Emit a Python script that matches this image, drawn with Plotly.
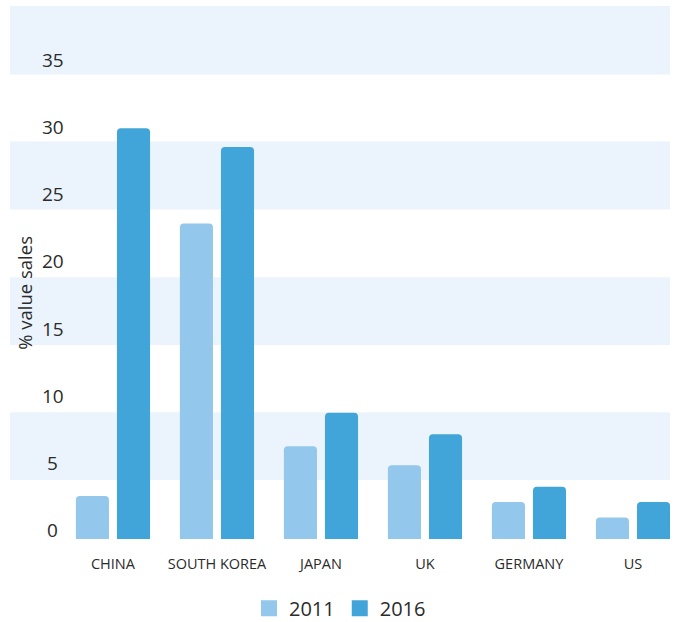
import plotly.graph_objects as go

categories = ["CHINA", "SOUTH KOREA", "JAPAN", "UK", "GERMANY", "US"]
sales_2011 = [3.2, 23.5, 6.9, 5.5, 2.75, 1.6]
sales_2016 = [30.6, 29.2, 9.4, 7.8, 3.9, 2.75]
y_ticks = [0, 5, 10, 15, 20, 25, 30, 35]
bands = [(4.4, 9.45), (14.45, 19.5), (24.55, 29.6), (34.6, 39.7)]

c2011 = "#93C7EB"
c2016 = "#42A5D9"
band_col = "#EBF4FC"
txt = "#2b2b2b"
FONT = "Open Sans, Noto Sans, sans-serif"

fig = go.Figure()
fig.add_trace(go.Bar(x=categories, y=sales_2011, name="2011", marker_color=c2011,
                     marker_line_width=0, showlegend=False))
fig.add_trace(go.Bar(x=categories, y=sales_2016, name="2016", marker_color=c2016,
                     marker_line_width=0, showlegend=False))
# legend entries
for name, col in [("2011", c2011), ("2016", c2016)]:
    fig.add_trace(go.Scatter(x=[None], y=[None], mode="markers", name=name,
                             marker=dict(symbol="square", size=16, color=col)))

shapes = []
for y0, y1 in bands:
    shapes.append(dict(type="rect", xref="paper", yref="y", x0=0, x1=1, y0=y0, y1=y1,
                       fillcolor=band_col, line_width=0, layer="below"))

annotations = []
for v in y_ticks:
    annotations.append(dict(x=(52.5 - 10) / 660, xref="paper", y=v, yref="y",
                            text=str(v), showarrow=False, xanchor="center", yanchor="bottom",
                            yshift=-6, font=dict(size=19, color=txt, family=FONT)))
annotations.append(dict(x=(24.5 - 10) / 660, xref="paper", y=18.3, yref="y",
                        text="% value sales", textangle=-90, showarrow=False,
                        xanchor="center", yanchor="middle",
                        font=dict(size=18.5, color=txt, family=FONT)))

fig.update_layout(
    width=676, height=622,
    margin=dict(l=10, r=6, t=6, b=83, autoexpand=False),
    paper_bgcolor="white", plot_bgcolor="white",
    barmode="group", bargap=0.21, bargroupgap=0.195,
    barcornerradius=4,
    font=dict(family=FONT, color=txt),
    shapes=shapes, annotations=annotations,
    xaxis=dict(range=[-0.99, 5.356], showgrid=False, zeroline=False, showline=False,
               ticks="", ticklabelstandoff=14, automargin=False,
               tickfont=dict(size=14.5, color=txt, family=FONT)),
    yaxis=dict(range=[0, 39.7], showgrid=False, zeroline=False, showline=False,
               showticklabels=False, ticks="", automargin=False),
    legend=dict(orientation="h", x=0.5, xanchor="center", y=-0.13, yanchor="middle",
                font=dict(size=20, color=txt, family=FONT), itemwidth=30,
                bgcolor="rgba(0,0,0,0)"),
)

fig.write_html("out.html")
